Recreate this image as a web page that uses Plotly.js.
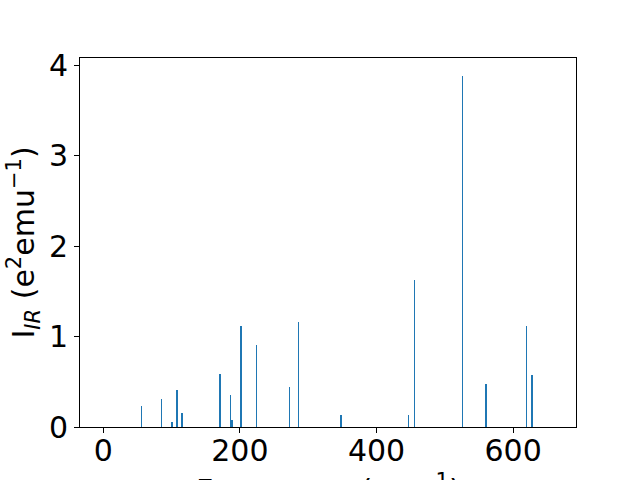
<!DOCTYPE html>
<html>
<head>
<meta charset="utf-8">
<script src="https://cdn.plot.ly/plotly-3.0.1.min.js"></script>
<style>html,body{margin:0;padding:0;background:#fff}</style>
</head>
<body>
<div id="chart" style="width:640px;height:480px"></div>
<script>
// Frequencies (cm^-1) and IR intensities (e^2 emu^-1)
const frequencies = [56, 85, 101, 108, 115, 171, 186, 188.5, 202, 224.5, 273, 285.5, 348, 446.5, 455.7, 525.5, 560.5, 619.3, 627.3];
const intensities = [0.227, 0.31, 0.057, 0.41, 0.157, 0.588, 0.356, 0.08, 1.117, 0.908, 0.444, 1.162, 0.135, 0.135, 1.627, 3.89, 0.478, 1.117, 0.577];
const xTickValues = [0, 200, 400, 600];
const yTickValues = [0, 1, 2, 3, 4];
const xTitle = 'Frequency (cm<sup>−1</sup>)';
const yTitle = 'I<sub><i>IR</i></sub> (e<sup>2</sup>emu<sup>−1</sup>)';

const FONT = 'DejaVu Sans';

const trace = {
  type: 'bar',
  x: frequencies,
  y: intensities,
  width: 2.2,
  marker: {color: '#1f77b4', line: {width: 0}},
  hoverinfo: 'x+y'
};

const axisCommon = {
  showline: true, mirror: true, linecolor: '#000', linewidth: 1,
  ticks: 'outside', ticklen: 5, tickwidth: 1, tickcolor: '#000',
  showgrid: false, zeroline: false,
  tickfont: {family: FONT, size: 30, color: '#000'}
};

const layout = {
  width: 640, height: 480,
  paper_bgcolor: '#fff', plot_bgcolor: '#fff',
  margin: {l: 80, r: 64, t: 57.6, b: 52.8, pad: 0},
  showlegend: false,
  bargap: 0,
  xaxis: Object.assign({}, axisCommon, {
    range: [-34, 692], tickvals: xTickValues, ticktext: xTickValues.map(String),
    ticklabelstandoff: -8
  }),
  yaxis: Object.assign({}, axisCommon, {
    range: [0, 4.084], tickvals: yTickValues, ticktext: yTickValues.map(String)
  }),
  annotations: [
    {text: xTitle, xref: 'paper', yref: 'paper', x: 0.5, y: -0.108,
     xanchor: 'center', yanchor: 'top', showarrow: false,
     font: {family: FONT, size: 30, color: '#000'}},
    {text: yTitle, xref: 'paper', yref: 'paper', x: 0, y: 0.5, xshift: -56,
     xanchor: 'center', yanchor: 'middle', textangle: -90, showarrow: false,
     font: {family: FONT, size: 30, color: '#000'}}
  ]
};

Plotly.newPlot('chart', [trace], layout, {displayModeBar: false, staticPlot: true});
</script>
</body>
</html>
